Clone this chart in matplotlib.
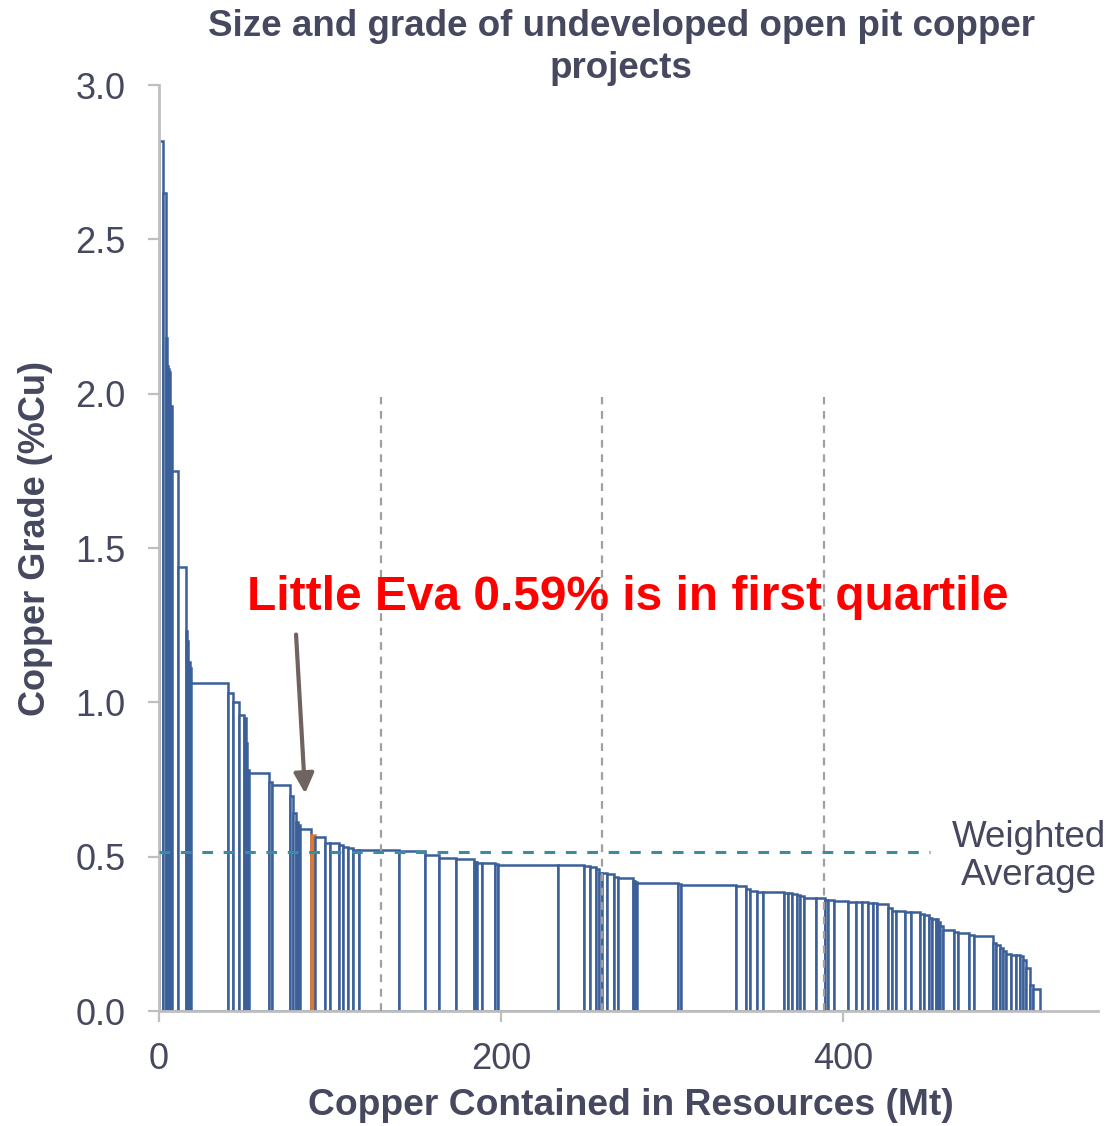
import matplotlib
matplotlib.use('Agg')
import matplotlib.pyplot as plt
import numpy as np

plt.rcParams['font.family'] = ['Liberation Sans', 'DejaVu Sans']

# Project sizes (Mt contained copper), sorted by grade (%Cu)
widths = [2.5, 1.4, 0.6, 0.7, 0.5, 0.8, 1.4, 3.5, 4.5, 0.8, 0.6, 0.7, 0.5,
          22.0, 2.9, 3.3, 2.9, 1.2, 0.8, 1.3, 11.5, 1.6, 10.7, 2.0, 1.4,
          1.5, 1.0, 6.3, 2.4, 5.8, 2.9, 5.4, 2.0, 3.3, 2.9, 3.5, 23.4,
          15.2, 8.2, 9.7, 10.7, 1.0, 1.0, 2.9, 7.4, 1.8, 34.7, 15.6, 3.5,
          3.3, 2.0, 1.4, 3.1, 4.3, 2.3, 8.4, 0.8, 0.8, 0.9, 23.8, 2.0,
          32.2, 5.8, 2.3, 4.1, 3.3, 12.7, 2.3, 2.5, 2.5, 2.0, 2.3, 6.8,
          5.3, 1.6, 3.5, 8.6, 4.5, 3.3, 3.5, 2.9, 2.9, 6.2, 2.0, 2.5,
          5.3, 3.5, 5.4, 2.3, 2.9, 2.0, 2.0, 1.4, 1.2, 1.4, 6.8, 2.0,
          6.8, 2.9, 10.9, 2.0, 1.9, 1.9, 2.0, 2.9, 2.9, 2.0, 2.0, 2.0,
          2.3, 1.6, 4.3]
grades = [2.82, 2.65, 2.18, 2.09, 2.08, 2.07, 1.96, 1.75, 1.44, 1.23, 1.20, 1.13, 1.11,
          1.062, 1.031, 1.002, 0.959, 0.949, 0.87, 0.781, 0.772, 0.743, 0.731, 0.697, 0.641,
          0.612, 0.603, 0.59, 0.572, 0.563, 0.546, 0.545, 0.538, 0.532, 0.527, 0.522, 0.521,
          0.519, 0.505, 0.497, 0.493, 0.483, 0.482, 0.481, 0.479, 0.477, 0.475, 0.473, 0.47,
          0.468, 0.459, 0.448, 0.446, 0.443, 0.435, 0.43, 0.422, 0.42, 0.418, 0.416, 0.411,
          0.408, 0.406, 0.397, 0.39, 0.387, 0.386, 0.384, 0.382, 0.38, 0.376, 0.372, 0.367,
          0.365, 0.361, 0.36, 0.358, 0.354, 0.353, 0.352, 0.35, 0.349, 0.347, 0.333, 0.326,
          0.323, 0.321, 0.32, 0.314, 0.311, 0.302, 0.30, 0.297, 0.289, 0.275, 0.262, 0.255,
          0.252, 0.248, 0.243, 0.222, 0.214, 0.205, 0.196, 0.185, 0.183, 0.181, 0.179, 0.165,
          0.14, 0.085, 0.071]
little_eva = 28          # index of the Little Eva project
quartiles = [130, 259, 389]
weighted_avg = 0.515
weighted_avg_end = 451

lefts = np.concatenate([[0], np.cumsum(widths)[:-1]])

fig = plt.figure(figsize=(11.19, 11.26), dpi=100)
ax = fig.add_axes([0.142, 0.102, 0.839, 0.8225])

text_col = '#45485E'
blue = '#3A5F99'
orange = '#E2782F'

face = ['white'] * len(widths)
edge = [blue] * len(widths)
face[little_eva] = orange
edge[little_eva] = orange
ax.bar(lefts, grades, width=widths, align='edge', color=face,
       edgecolor=edge, linewidth=1.8, zorder=2)

for q in quartiles:
    ax.plot([q, q], [0, 1.99], color='#A0A0A0', linestyle=(0, (3.5, 3)),
            linewidth=1.6, zorder=3)

ax.plot([0, weighted_avg_end], [weighted_avg, weighted_avg], color='#3A8C9E',
        linestyle=(0, (3.5, 3.5)), linewidth=2.2, zorder=4)
ax.text(509, weighted_avg - 0.015, 'Weighted\nAverage', ha='center', va='center',
        fontsize=26.5, color=text_col, linespacing=1.1)

ax.annotate('', xy=(85.5, 0.705), xytext=(80.2, 1.22),
            arrowprops=dict(arrowstyle='-|>', color='#6F6460', lw=3,
                            mutation_scale=30, shrinkA=0, shrinkB=0), zorder=5)
ax.text(274, 1.34, 'Little Eva 0.59% is in first quartile', ha='center',
        va='center', fontsize=34.5, fontweight='bold', color='#FF0000', zorder=6)

ax.set_xlim(0, 549)
ax.set_ylim(0, 3.0)
ax.set_xticks([0, 200, 400])
ax.set_yticks(np.arange(0, 3.01, 0.5))
ax.yaxis.set_major_formatter(matplotlib.ticker.FormatStrFormatter('%.1f'))
ax.tick_params(axis='both', colors='#BFBFBF', labelcolor=text_col,
               labelsize=26, length=8, width=1.6, direction='out')
ax.tick_params(axis='y', pad=16)
ax.tick_params(axis='x', pad=14)
for s in ['top', 'right']:
    ax.spines[s].set_visible(False)
for s in ['left', 'bottom']:
    ax.spines[s].set_color('#BFBFBF')
    ax.spines[s].set_linewidth(2)

fig.text(0.555, 0.958, 'Size and grade of undeveloped open pit copper\nprojects',
         ha='center', va='center', fontsize=26.5, fontweight='bold',
         color=text_col, linespacing=1.28)
fig.text(0.032, 0.522, 'Copper Grade (%Cu)', rotation=90, ha='center',
         va='center', fontsize=26, fontweight='bold', color=text_col)
fig.text(0.564, 0.018, 'Copper Contained in Resources (Mt)', ha='center',
         va='center', fontsize=26.8, fontweight='bold', color=text_col)

fig.savefig('out.png', dpi=100)
